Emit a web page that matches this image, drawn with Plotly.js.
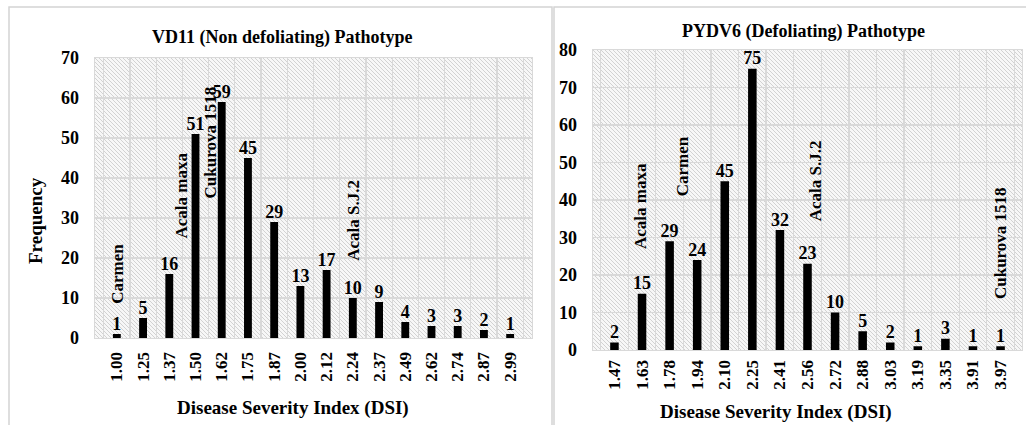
<!DOCTYPE html>
<html>
<head>
<meta charset="utf-8">
<script src="https://cdn.plot.ly/plotly-3.0.1.min.js"></script>
<style>html,body{margin:0;padding:0;background:#fff;}#chart{width:1026px;height:425px;}</style>
</head>
<body>
<div id="chart"></div>
<script>
// ---- Data ----
const leftTitle = 'VD11 (Non defoliating) Pathotype';
const rightTitle = 'PYDV6 (Defoliating) Pathotype';
const xTitle = 'Disease Severity Index (DSI)';
const yTitle = 'Frequency';
const leftCats = ['1.00','1.25','1.37','1.50','1.62','1.75','1.87','2.00','2.12','2.24','2.37','2.49','2.62','2.74','2.87','2.99'];
const leftFreq = [1,5,16,51,59,45,29,13,17,10,9,4,3,3,2,1];
const rightCats = ['1.47','1.63','1.78','1.94','2.10','2.25','2.41','2.56','2.72','2.88','3.03','3.19','3.35','3.91','3.97'];
const rightFreq = [2,15,29,24,45,75,32,23,10,5,2,1,3,1,1];
const leftVarieties = ['Carmen','Acala maxa','Cukurova 1518','Acala S.J.2'];
const rightVarieties = ['Acala maxa','Carmen','Acala S.J.2','Cukurova 1518'];

// ---- Layout geometry ----
const W = 1026, H = 425;
const L = {x0: 95, x1: 532, y0: 58, y1: 338};
const R = {x0: 593, x1: 1022, y0: 50, y1: 350};
const px = v => v / W;
const py = v => (H - v) / H;

const FONT = '"Liberation Serif", "Times New Roman", serif';
const bold = (size) => ({family: FONT, size: size, color: '#000', weight: 'bold'});

function hatch(w, h) {
  const s = "<svg xmlns='http://www.w3.org/2000/svg' width='" + w + "' height='" + h + "'>" +
    "<defs><pattern id='p' width='4' height='4' patternUnits='userSpaceOnUse'>" +
    "<path d='M-1,-1 L5,5 M3,-1 L5,1 M-1,3 L1,5' stroke='#c9c9c9' stroke-width='0.8'/></pattern></defs>" +
    "<rect width='100%' height='100%' fill='#f7f7f7'/>" +
    "<rect width='100%' height='100%' fill='url(#p)'/></svg>";
  return 'data:image/svg+xml;charset=utf-8,' + encodeURIComponent(s);
}

const traces = [
  {type: 'bar', x: leftCats, y: leftFreq, xaxis: 'x', yaxis: 'y', width: 0.3,
   marker: {color: '#000'}, hoverinfo: 'x+y'},
  {type: 'scatter', mode: 'text', x: leftCats, y: leftFreq, xaxis: 'x', yaxis: 'y',
   text: leftFreq.map(String), textposition: 'top center', textfont: bold(18), hoverinfo: 'skip'},
  {type: 'bar', x: rightCats, y: rightFreq, xaxis: 'x2', yaxis: 'y2', width: 0.31,
   marker: {color: '#000'}, hoverinfo: 'x+y'},
  {type: 'scatter', mode: 'text', x: rightCats, y: rightFreq, xaxis: 'x2', yaxis: 'y2',
   text: rightFreq.map(String), textposition: 'top center', textfont: bold(18), hoverinfo: 'skip'}
];

const gridColor = '#d9d9d9';
const xAxisBase = {
  type: 'category', tickangle: -90, tickson: 'boundaries', showgrid: true, gridcolor: gridColor, gridwidth: 1.3,
  showline: true, linecolor: gridColor, linewidth: 1.3, mirror: true,
  ticks: '', tickfont: bold(17), fixedrange: true
};
const yAxisBase = {
  dtick: 10, showgrid: true, gridcolor: gridColor, gridwidth: 1.3, zeroline: false,
  showline: true, linecolor: gridColor, linewidth: 1.3, mirror: true,
  ticks: 'outside', ticklen: 11, tickcolor: 'rgba(0,0,0,0)', tickfont: bold(18), fixedrange: true
};

const ann = (text, x, y, xref, yref, size, angle) => ({
  text: '<b>' + text + '</b>', x: x, y: y, xref: xref, yref: yref, showarrow: false,
  font: bold(size), textangle: angle || 0, xanchor: 'center', yanchor: 'middle'
});

const annotations = [
  ann(leftTitle, px(282), py(38), 'paper', 'paper', 18),
  ann(rightTitle, px(803), py(31), 'paper', 'paper', 18),
  ann(xTitle, px(293), py(408), 'paper', 'paper', 19),
  ann(xTitle, px(776), py(412), 'paper', 'paper', 19),
  ann(yTitle, px(35), py(221), 'paper', 'paper', 19, -90),
  // variety labels, left panel
  ann(leftVarieties[0], 0, 16, 'x', 'y', 17, -90),
  ann(leftVarieties[1], 2.43, 35.5, 'x', 'y', 17, -90),
  ann(leftVarieties[2], 3.57, 49, 'x', 'y', 17, -90),
  ann(leftVarieties[3], 9, 29.5, 'x', 'y', 17, -90),
  // variety labels, right panel
  ann(rightVarieties[0], 0.95, 38.3, 'x2', 'y2', 17, -90),
  ann(rightVarieties[1], 2.47, 48.9, 'x2', 'y2', 17, -90),
  ann(rightVarieties[2], 7.3, 45.2, 'x2', 'y2', 17, -90),
  ann(rightVarieties[3], 14, 28.4, 'x2', 'y2', 17, -90)
];

const layout = {
  width: W, height: H, margin: {l: 0, r: 0, t: 0, b: 0},
  paper_bgcolor: '#fff', plot_bgcolor: 'rgba(0,0,0,0)',
  showlegend: false, barmode: 'overlay',
  font: bold(16),
  xaxis: Object.assign({}, xAxisBase, {domain: [px(L.x0), px(L.x1)], anchor: 'y', ticklabelstandoff: 6}),
  yaxis: Object.assign({}, yAxisBase, {domain: [py(L.y1), py(L.y0)], range: [0, 70], anchor: 'x'}),
  xaxis2: Object.assign({}, xAxisBase, {domain: [px(R.x0), px(R.x1)], anchor: 'y2', ticklabelstandoff: 2}),
  yaxis2: Object.assign({}, yAxisBase, {domain: [py(R.y1), py(R.y0)], range: [0, 80], anchor: 'x2'}),
  images: [
    {source: hatch(L.x1 - L.x0, L.y1 - L.y0), xref: 'paper', yref: 'paper', x: px(L.x0), y: py(L.y0),
     sizex: px(L.x1 - L.x0), sizey: (L.y1 - L.y0) / H, sizing: 'stretch', xanchor: 'left', yanchor: 'top', layer: 'below'},
    {source: hatch(R.x1 - R.x0, R.y1 - R.y0), xref: 'paper', yref: 'paper', x: px(R.x0), y: py(R.y0),
     sizex: px(R.x1 - R.x0), sizey: (R.y1 - R.y0) / H, sizing: 'stretch', xanchor: 'left', yanchor: 'top', layer: 'below'}
  ],
  shapes: [
    {type: 'rect', xref: 'paper', yref: 'paper', x0: px(9), x1: px(552), y0: -0.05, y1: py(7),
     line: {color: '#d4d4d4', width: 1.5}, layer: 'below'},
    {type: 'rect', xref: 'paper', yref: 'paper', x0: px(554), x1: 1.05, y0: -0.05, y1: py(7),
     line: {color: '#d4d4d4', width: 1.5}, layer: 'below'}
  ],
  annotations: annotations
};

Plotly.newPlot('chart', traces, layout, {staticPlot: true, displayModeBar: false});
</script>
</body>
</html>
